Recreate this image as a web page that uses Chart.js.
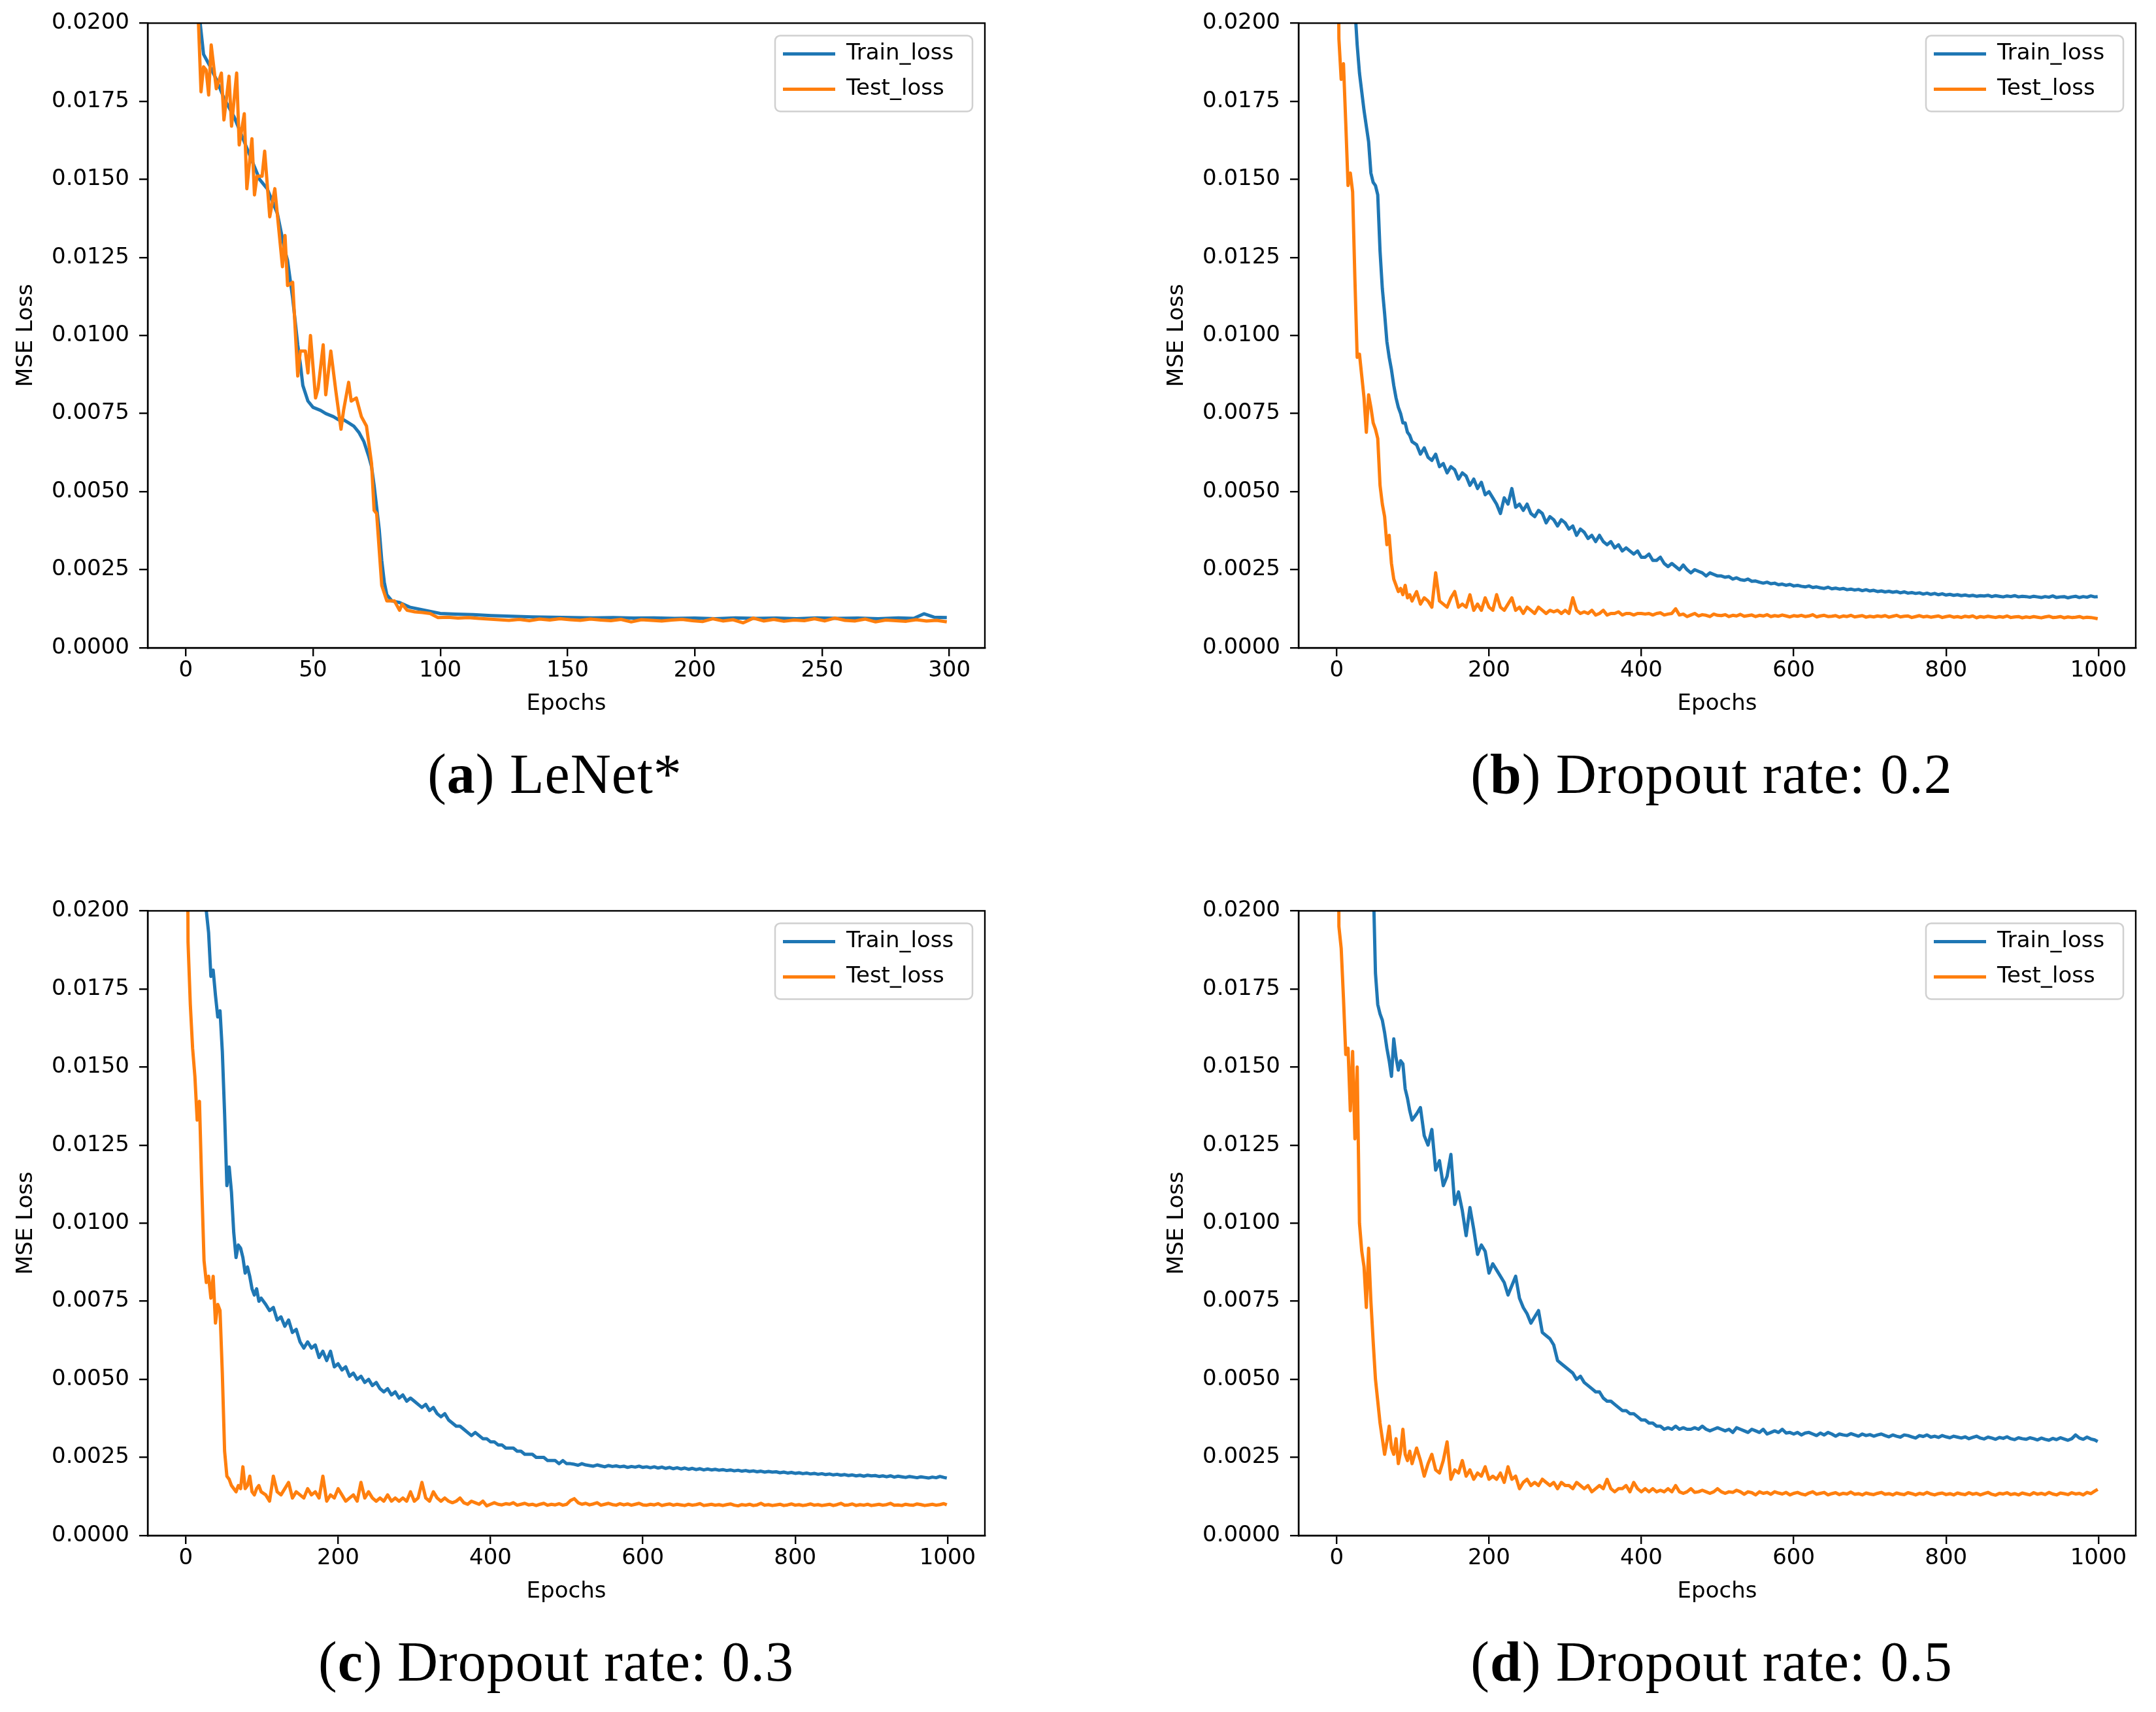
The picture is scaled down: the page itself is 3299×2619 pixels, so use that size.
<!DOCTYPE html>
<html><head><meta charset="utf-8">
<script src="https://cdn.jsdelivr.net/npm/chart.js@4.4.1/dist/chart.umd.min.js"></script>
<style>
html,body{margin:0;padding:0;background:#fff;}
body{width:3299px;height:2619px;position:relative;overflow:hidden;}
canvas{position:absolute;}
.cap{position:absolute;width:1200px;text-align:center;font-family:"Liberation Serif","Times New Roman",serif;font-size:86px;line-height:1;letter-spacing:1px;color:#000;white-space:nowrap;}
</style></head><body>
<canvas id="cA" width="1530" height="1110" style="left:0px;top:0px"></canvas>
<canvas id="cB" width="1530" height="1110" style="left:1761px;top:0px"></canvas>
<canvas id="cC" width="1530" height="1110" style="left:0px;top:1358px"></canvas>
<canvas id="cD" width="1530" height="1110" style="left:1761px;top:1358px"></canvas>
<div class="cap" style="left:249px;top:1141px">(<b>a</b>) LeNet*</div>
<div class="cap" style="left:2019px;top:1141px">(<b>b</b>) Dropout rate: 0.2</div>
<div class="cap" style="left:251px;top:2499px">(<b>c</b>) Dropout rate: 0.3</div>
<div class="cap" style="left:2019px;top:2499px">(<b>d</b>) Dropout rate: 0.5</div>
<script>
// ---------- tick labels ----------
const yTickValues = [0, 0.0025, 0.005, 0.0075, 0.01, 0.0125, 0.015, 0.0175, 0.02];
const yTickLabels = ['0.0000','0.0025','0.0050','0.0075','0.0100','0.0125','0.0150','0.0175','0.0200'];
const xTicksA = [0, 50, 100, 150, 200, 250, 300];
const xTickLabelsA = ['0','50','100','150','200','250','300'];
const xTicksLong = [0, 200, 400, 600, 800, 1000];
const xTickLabelsLong = ['0','200','400','600','800','1000'];
const seriesNames = ['Train_loss', 'Test_loss'];

// ---------- (a) LeNet* ----------
const epochsA_train = [0,3,5,7,9,12,15,19,22,25,29,32,36,39,40,42,44,45,46,48,50,53,55,58,60,62,64,66,68,70,72,73,74,75,76,77,78,79,81,84,88,94,100,106,113,120,128,136,144,152,160,168,176,184,192,200,208,216,224,232,240,248,256,264,272,280,286,290,294,299];
const trainLossA = [.045,.026,.0205,.0190,.0187,.0182,.0176,.0170,.0164,.0158,.0150,.0147,.0139,.0127,.0124,.0112,.0097,.0091,.0084,.0079,.0077,.0076,.0075,.0074,.0073,.0073,.0072,.0071,.0069,.0066,.0061,.0058,.0052,.0045,.0038,.0028,.0021,.0017,.0015,.00145,.0013,.0012,.0011,.00108,.00106,.00103,.00101,.00099,.00098,.00097,.00096,.00097,.00095,.00096,.00094,.00095,.00093,.00096,.00094,.00095,.00093,.00096,.00094,.00095,.00093,.00096,.00094,.00109,.00098,.00097];
const epochsA_test = [0,3,5,6,7,8,9,10,12,14,15,17,18,20,21,23,24,26,27,28,30,31,33,35,38,39,40,42,44,45,47,48,49,51,52,54,55,57,59,61,62,64,65,67,69,71,73,74,75,77,79,82,84,85,87,90,93,96,99,
103,107,111,115,119,123,127,131,135,139,143,147,151,155,159,163,167,171,175,179,183,187,191,195,199,203,207,211,215,219,223,227,231,235,239,243,247,251,255,259,263,267,271,275,279,283,287,291,295,299];
const testLossA = [.032,.0235,.0200,.0178,.0186,.0185,.0177,.0193,.0179,.0184,.0169,.0183,.0167,.0184,.0161,.0171,.0147,.0163,.0145,.0151,.0151,.0159,.0138,.0147,.0122,.0132,.0116,.0117,.0087,.0095,.0095,.0088,.0100,.0080,.0083,.0097,.0081,.0095,.0082,.0070,.0076,.0085,.0079,.0080,.0074,.0071,.0059,.0044,.0043,.0020,.0015,.0015,.0012,.0014,.0012,.00115,.00113,.0011,.00097,
.00098,.00095,.00097,.00094,.00092,.00090,.00088,.00091,.00087,.00092,
.00089,.00093,.00090,.00088,.00092,.00089,.00087,.00091,.00083,.00090,
.00088,.00086,.00089,.00091,.00087,.00084,.00093,.00086,.00090,.00080,
.00095,.00086,.00091,.00085,.00089,.00087,.00093,.00086,.00095,.00088,
.00086,.00092,.00083,.00089,.00087,.00085,.00090,.00086,.00088,.00083];

// ---------- shared epochs for (b), (c), (d) ----------
const epochsLong = [0,3,6,9,12,15,18,21,24,27,30,33,36,39,42,45,48,51,54,57,60,63,66,69,72,75,78,81,84,87,90,93,96,99,
105,110,115,120,125,130,135,140,145,150,155,160,165,170,175,180,185,190,195,200,
205,210,215,220,225,230,235,240,245,250,255,260,265,270,275,280,285,290,295,300,
305,310,315,320,325,330,335,340,345,350,355,360,365,370,375,380,385,390,395,400,
405,410,415,420,425,430,435,440,445,450,455,460,465,470,475,480,485,490,495,500,
505,510,515,520,525,530,535,540,545,550,555,560,565,570,575,580,585,590,595,600,
605,610,615,620,625,630,635,640,645,650,655,660,665,670,675,680,685,690,695,700,
705,710,715,720,725,730,735,740,745,750,755,760,765,770,775,780,785,790,795,800,
805,810,815,820,825,830,835,840,845,850,855,860,865,870,875,880,885,890,895,900,
905,910,915,920,925,930,935,940,945,950,955,960,965,970,975,980,985,990,995,
999];

// ---------- (b) Dropout 0.2 ----------
const trainLossB = [.0600,.0500,.0430,.0380,.0330,.0290,.0255,.0225,.0205,.0193,.0184,.0178,.0172,.0167,.0162,.0152,.0149,.0148,.0145,.0127,.0115,.0107,.0098,.0093,.0089,.0084,.0080,.0077,.0075,.0072,.0072,.0069,.0068,.0066,
.0065,.0062,.0064,.0061,.0060,.0062,.0058,.0059,.0056,.0058,.0057,.0054,.0056,.0055,.0052,.0054,.0051,.0053,.0049,.0050,
.0048,.0046,.0043,.0048,.0046,.0051,.0045,.0046,.0044,.0046,.0043,.0042,.0044,.0043,.0040,.0042,.0041,.0039,.0041,.0040,
.0038,.0039,.0036,.0038,.0037,.0035,.0036,.0034,.0036,.0034,.0033,.0034,.0032,.0033,.0031,.0032,.0031,.0030,.0031,.0029,
.0029,.0030,.0028,.0028,.0029,.0027,.0026,.0027,.0026,.0025,.00265,.0025,.0024,.0025,.00245,.0024,.0023,.0024,.00235,.0023,
.0023,.00226,.00228,.0022,.00224,.00218,.00216,.0022,.00213,.00214,.0021,.00207,.0021,.00205,.00207,.00202,.00204,.002,.00203,.00198,
.002,.00197,.00195,.00198,.00193,.00195,.00192,.0019,.00194,.00189,.00191,.00188,.0019,.00186,.00188,.00185,.00187,.00183,.00186,.00182,
.00184,.0018,.00182,.00179,.00181,.00178,.0018,.00176,.00179,.00175,.00177,.00174,.00176,.00172,.00175,.00171,.00174,.0017,.00173,.00169,
.00171,.00168,.0017,.00167,.00169,.00166,.00168,.00165,.00167,.00166,.00168,.00164,.00167,.00165,.00163,.00166,.00164,.00167,.00163,.00165,
.00164,.00162,.00165,.00163,.00161,.00164,.00162,.00166,.00161,.00163,.00164,.0016,.00163,.00165,.00161,.00164,.00162,.00166,.00163,
.00164];
const testLossB = [.030,.0195,.0182,.0187,.0168,.0148,.0152,.0146,.0118,.0093,.0094,.0087,.0080,.0069,.0081,.0077,.0072,.0070,.0067,.0052,.0046,.0042,.0033,.0036,.0027,.0022,.0020,.0018,.0019,.0017,.0020,.0016,.0017,.0015,
.0018,.0014,.0016,.0015,.0013,.0024,.0015,.0014,.0013,.0016,.0018,.0013,.0014,.0013,.0017,.0012,.0014,.0012,.0016,.0013,
.0012,.0017,.0013,.0012,.0014,.0016,.0012,.0013,.0011,.0013,.0012,.0011,.0013,.0012,.0011,.0012,.00115,.0012,.0011,.0012,
.0011,.0016,.0012,.0011,.00115,.0011,.0012,.00105,.0011,.0012,.00105,.0011,.0011,.00115,.00105,.0011,.0011,.00105,.0011,.0011,
.00108,.0011,.00105,.0011,.00112,.00105,.00108,.0011,.00125,.00105,.00108,.001,.00105,.0011,.00102,.00106,.00104,.001,.00108,.00104,
.00103,.00106,.001,.00104,.00102,.00107,.00101,.00103,.00105,.001,.00104,.00102,.00106,.001,.00103,.00101,.00105,.00102,.00099,.00103,
.00101,.00104,.001,.00102,.00106,.00099,.00102,.00104,.001,.00101,.00103,.00098,.00102,.001,.00104,.00099,.00101,.00103,.00098,.00101,
.00099,.00102,.001,.00103,.00098,.00101,.00104,.00099,.00101,.00102,.00097,.001,.00103,.00099,.00101,.00098,.001,.00102,.00097,.001,
.00102,.00098,.001,.00097,.00101,.00099,.00102,.00096,.001,.00098,.00101,.00099,.00097,.001,.00098,.00102,.00097,.00099,.001,.00096,
.00099,.00097,.001,.00098,.00096,.00099,.00101,.00097,.00098,.001,.00096,.00099,.00097,.00098,.001,.00096,.00098,.00097,.00095,
.00093];

// ---------- (c) Dropout 0.3 ----------
const trainLossC = [.060,.052,.045,.040,.035,.031,.027,.0235,.0212,.0200,.0193,.0179,.0181,.0173,.0166,.0168,.0155,.0135,.0112,.0118,.0110,.0097,.0089,.0093,.0092,.0089,.0084,.0086,.0083,.0079,.0077,.0079,.0075,.0076,
.0074,.0072,.0073,.0069,.0070,.0067,.0069,.0065,.0066,.0062,.0060,.0062,.0060,.0061,.0057,.0059,.0056,.0059,.0054,.0055,
.0053,.0054,.0051,.0052,.0050,.0051,.0049,.0050,.0048,.0049,.0047,.0046,.0047,.0045,.0046,.0044,.0045,.0043,.0044,.0043,
.0042,.0041,.0042,.0040,.0041,.0039,.0038,.0039,.0037,.0036,.0035,.0035,.0034,.0033,.0032,.0033,.0032,.0031,.0031,.0030,
.0030,.0029,.0029,.0028,.0028,.0028,.0027,.0027,.0026,.0026,.0026,.0025,.0025,.0025,.0024,.0024,.0024,.0023,.0024,.0023,
.0023,.00228,.00225,.0023,.00226,.00224,.00222,.00226,.00223,.0022,.00224,.00221,.00223,.0022,.00222,.00218,.00221,.00219,.00222,.00218,
.0022,.00217,.0022,.00216,.00219,.00215,.00218,.00214,.00217,.00213,.00216,.00212,.00215,.00211,.00214,.0021,.00213,.0021,.00212,.00209,
.00211,.00208,.0021,.00207,.00209,.00206,.00208,.00205,.00207,.00204,.00206,.00203,.00205,.00203,.00204,.00201,.00203,.002,.00202,.00199,
.00201,.00198,.002,.00197,.00199,.00196,.00198,.00195,.00197,.00194,.00196,.00193,.00195,.00192,.00194,.00191,.00193,.0019,.00193,.00191,
.00192,.00189,.00191,.00188,.00191,.00187,.0019,.00188,.00186,.00189,.00187,.00185,.00188,.00186,.00184,.00187,.00185,.00189,.00186,
.00184];
const testLossC = [.035,.0190,.0170,.0156,.0147,.0133,.0139,.0112,.0088,.0081,.0083,.0076,.0083,.0068,.0074,.0072,.0052,.0027,.0019,.0018,.0016,.0015,.0014,.0016,.0015,.0022,.0015,.0016,.0019,.0014,.0013,.0015,.0016,.0014,
.0013,.0011,.0019,.0014,.0013,.0015,.0017,.0012,.0014,.0013,.0012,.0015,.0013,.0014,.0012,.0019,.0011,.0013,.0012,.0015,
.0013,.0011,.0012,.0013,.0011,.0017,.0012,.0014,.0012,.0011,.0012,.0011,.0013,.0011,.0012,.0011,.0012,.0011,.0014,.0011,
.0012,.0017,.0012,.0011,.0014,.0012,.0011,.0012,.0011,.00105,.0011,.0012,.00105,.001,.0011,.00105,.001,.0011,.00095,.001,
.00105,.001,.00098,.00102,.001,.00105,.00097,.001,.00103,.00098,.001,.00096,.001,.00103,.00097,.001,.00098,.00102,.00097,.001,
.00112,.00118,.00105,.001,.00103,.00098,.00101,.00105,.00097,.001,.00103,.00099,.00097,.00102,.00098,.00101,.00097,.001,.00103,.00098,
.00097,.001,.00098,.00102,.00096,.00099,.00101,.00097,.001,.00098,.00096,.001,.00097,.00099,.00102,.00096,.00098,.001,.00097,.00099,
.00096,.00099,.00101,.00097,.00095,.00099,.00097,.001,.00096,.00098,.00103,.00097,.00099,.00096,.00098,.001,.00096,.00098,.00101,.00097,
.00099,.00096,.00098,.00101,.00097,.00099,.00096,.00098,.001,.00096,.00099,.00103,.00097,.00098,.00101,.00096,.00099,.00097,.001,.00096,
.00098,.001,.00097,.00099,.00103,.00097,.00098,.00096,.001,.00098,.00097,.00101,.00099,.00096,.00098,.001,.00097,.00099,.00102,
.00098];

// ---------- (d) Dropout 0.5 ----------
const trainLossD = [.070,.062,.056,.051,.046,.042,.038,.035,.032,.029,.027,.026,.025,.0245,.0240,.0225,.0210,.0180,.0170,.0167,.0165,.0161,.0156,.0152,.0147,.0159,.0153,.0149,.0152,.0151,.0143,.0140,.0136,.0133,
.0135,.0137,.0128,.0125,.0130,.0117,.0120,.0112,.0115,.0122,.0106,.0110,.0104,.0096,.0105,.0098,.0090,.0093,.0091,.0084,
.0087,.0085,.0083,.0081,.0077,.0080,.0083,.0076,.0073,.0071,.0068,.0070,.0072,.0065,.0064,.0063,.0061,.0056,.0055,.0054,
.0053,.0052,.0050,.0051,.0049,.0048,.0047,.0046,.0046,.0044,.0043,.0043,.0042,.0041,.0040,.0040,.0039,.0039,.0038,.0037,
.0037,.0036,.0036,.0035,.0035,.0034,.00345,.0034,.0035,.0034,.00345,.0034,.0034,.00345,.0034,.0035,.0034,.00335,.0034,.00345,
.0034,.00335,.0034,.0033,.00345,.0034,.00335,.0033,.0034,.00335,.0033,.0034,.00325,.0033,.00335,.0033,.0034,.00328,.0033,.00325,
.0033,.00322,.00328,.0033,.00325,.0032,.00328,.00322,.0033,.00325,.00318,.00325,.00322,.0032,.00326,.00322,.00318,.00325,.0032,.00323,
.00318,.00322,.00325,.0032,.00316,.00322,.00318,.00315,.00322,.0032,.00316,.00312,.0032,.00317,.00322,.00315,.00318,.00314,.0032,.00316,
.00313,.00318,.00315,.00312,.00316,.0031,.00314,.00318,.00312,.00309,.00315,.00312,.00308,.00314,.00311,.00316,.0031,.00307,.00313,.0031,
.00308,.00313,.0031,.00306,.00312,.00308,.00305,.00311,.00307,.00313,.00309,.00305,.0031,.00322,.00312,.00308,.00315,.00309,.00306,
.00301];
const testLossD = [.035,.0195,.0188,.0172,.0154,.0156,.0136,.0155,.0127,.0150,.0100,.0091,.0086,.0073,.0092,.0075,.0062,.0050,.0043,.0036,.0031,.0026,.0030,.0035,.0028,.0026,.0031,.0023,.0027,.0034,.0026,.0024,.0027,.0023,
.0028,.0024,.0019,.0023,.0026,.0021,.0020,.0024,.0030,.0018,.0021,.0020,.0024,.0019,.0021,.0018,.0020,.0019,.0022,.0018,
.0019,.0018,.0020,.0017,.0022,.0018,.0019,.0015,.0017,.0018,.0016,.0017,.0016,.0018,.0017,.0016,.0017,.0015,.0017,.0016,
.0016,.0015,.0017,.0016,.0015,.0016,.0014,.0015,.0016,.0015,.0018,.0015,.0014,.0015,.0015,.0016,.0014,.0017,.0015,.0014,
.0015,.0014,.0015,.0014,.00145,.0014,.0015,.0014,.0016,.0014,.00135,.0014,.0015,.00138,.0014,.00145,.0014,.00135,.0014,.0015,
.0014,.00135,.0014,.00138,.00145,.0014,.00132,.0014,.00137,.0013,.0014,.00135,.00138,.00132,.0014,.00136,.00133,.00138,.0013,.00135,
.00138,.00133,.0013,.00136,.0014,.00132,.00135,.00138,.0013,.00134,.00137,.00131,.00135,.00133,.00139,.00132,.00134,.0013,.00136,.00133,
.00131,.00135,.00138,.00132,.00134,.0013,.00136,.00133,.00131,.00137,.00134,.0013,.00135,.00132,.00138,.00133,.0013,.00134,.00136,.00131,
.00134,.0013,.00136,.00133,.00131,.00137,.00132,.00135,.0013,.00134,.00138,.00132,.00129,.00135,.00133,.00137,.00131,.00134,.0013,.00136,
.00133,.0013,.00137,.00132,.00135,.00131,.00138,.00133,.0013,.00136,.00134,.00131,.00137,.00133,.00135,.0013,.00138,.00134,.00142,
.00148];

// ---------- styling ----------
const COLOR_TRAIN = '#1f77b4', COLOR_TEST = '#ff7f0e';
const LINE_W = 5, AXIS_W = 2.4;
const LEG = {w: 302, h: 116, gap: 19, r: 8};
Chart.defaults.font.family = '"DejaVu Sans", sans-serif';
Chart.defaults.font.size = 34;
Chart.defaults.color = '#000';

function legendFrame(ca) {
  return {x: ca.right - LEG.gap - LEG.w, y: ca.top + LEG.gap};
}
const mplPlugin = {
  id: 'mplLook',
  afterLayout(chart) {
    const lg = chart.legend; if (!lg) return;
    const f = legendFrame(chart.chartArea);
    lg.left = f.x - 8; lg.top = f.y - 9;
    lg.right = f.x + LEG.w; lg.bottom = f.y + 220;
    lg.width = lg.right - lg.left; lg.height = lg.bottom - lg.top;
  },
  beforeDraw(chart) {
    const ctx = chart.ctx, f = legendFrame(chart.chartArea);
    ctx.save();
    ctx.beginPath();
    ctx.roundRect(f.x, f.y, LEG.w, LEG.h, LEG.r);
    ctx.fillStyle = 'rgba(255,255,255,0.8)';
    ctx.fill();
    ctx.lineWidth = 2.5; ctx.strokeStyle = '#d0d0d0';
    ctx.stroke();
    ctx.restore();
  },
  afterDraw(chart) {
    const ctx = chart.ctx, ca = chart.chartArea;
    ctx.save();
    ctx.lineWidth = AXIS_W; ctx.strokeStyle = '#000';
    ctx.strokeRect(ca.left, ca.top, ca.right - ca.left, ca.bottom - ca.top);
    ctx.restore();
  }
};

function pts(xs, ys) { return xs.map((x, i) => ({x: x, y: ys[i]})); }
function ds(label, data, color, order) {
  return {label, data, borderColor: color, backgroundColor: color, borderWidth: LINE_W,
    pointRadius: 0, pointHoverRadius: 0, pointBorderWidth: LINE_W, pointBorderColor: color,
    pointBackgroundColor: color, tension: 0, borderJoinStyle: 'round', clip: 0, order};
}
function makeChart(id, trainData, testData, xMin, xMax, xTicks, xLabels) {
  const axisCommon = {
    grid: {display: true, drawOnChartArea: false, drawTicks: true, tickLength: 13, color: '#000', lineWidth: AXIS_W},
    border: {display: true, color: '#000', width: AXIS_W}
  };
  return new Chart(document.getElementById(id), {
    type: 'line',
    data: {datasets: [ds(seriesNames[0], trainData, COLOR_TRAIN, 1), ds(seriesNames[1], testData, COLOR_TEST, 0)]},
    options: {
      responsive: false, animation: false, devicePixelRatio: 1, events: [],
      layout: {padding: {left: 0, top: 34, right: 23, bottom: 9}},
      plugins: {
        tooltip: {enabled: false},
        legend: {display: true, position: 'chartArea', align: 'start',
          labels: {usePointStyle: true, pointStyle: 'line', pointStyleWidth: 80, padding: 20, color: '#000',
            font: {size: 34}, sort: (a, b) => a.datasetIndex - b.datasetIndex}}
      },
      scales: {
        x: Object.assign({type: 'linear', min: xMin, max: xMax,
          afterBuildTicks: s => { s.ticks = xTicks.map(v => ({value: v})); },
          afterFit: s => { s.height = 110; },
          ticks: {autoSkip: false, maxRotation: 0, minRotation: 0, padding: 2, color: '#000', font: {size: 34},
            callback: (v, i) => xLabels[i]},
          title: {display: true, text: 'Epochs', color: '#000', font: {size: 34}, padding: {top: 0, bottom: 3}}
        }, axisCommon),
        y: Object.assign({type: 'linear', min: 0, max: 0.02,
          afterBuildTicks: s => { s.ticks = yTickValues.map(v => ({value: v})); },
          afterFit: s => { s.width = 226; },
          ticks: {autoSkip: false, padding: 15, color: '#000', font: {size: 34},
            callback: (v, i) => yTickLabels[i]},
          title: {display: true, text: 'MSE Loss', color: '#000', font: {size: 34}, padding: {top: 20, bottom: 0}}
        }, axisCommon)
      }
    },
    plugins: [mplPlugin]
  });
}

makeChart('cA', pts(epochsA_train, trainLossA), pts(epochsA_test, testLossA), -14.95, 313.95, xTicksA, xTickLabelsA);
makeChart('cB', pts(epochsLong, trainLossB), pts(epochsLong, testLossB), -49.95, 1048.95, xTicksLong, xTickLabelsLong);
makeChart('cC', pts(epochsLong, trainLossC), pts(epochsLong, testLossC), -49.95, 1048.95, xTicksLong, xTickLabelsLong);
makeChart('cD', pts(epochsLong, trainLossD), pts(epochsLong, testLossD), -49.95, 1048.95, xTicksLong, xTickLabelsLong);
</script>
</body></html>
